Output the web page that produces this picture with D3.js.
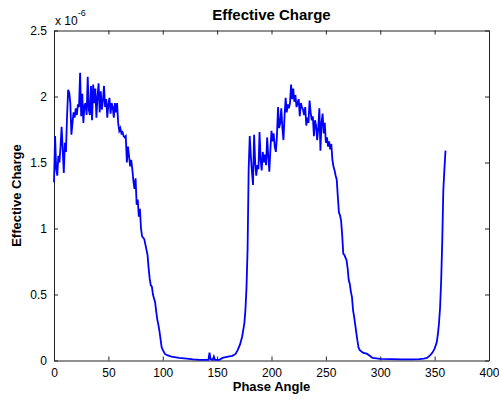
<!DOCTYPE html>
<html>
<head>
<meta charset="utf-8">
<script src="https://cdn.jsdelivr.net/npm/d3@7"></script>
<style>
  body { margin: 0; background: #fff; overflow: hidden; }
  text { font-family: "Liberation Sans", Arial, sans-serif; }
</style>
</head>
<body>
<div class="canvas"></div>
<script>
// phase angle (deg) and effective charge (x 1e-6)
var phase = [
  0,1,2,3,4,5,6,7,8,9,10,11,12,13,14,15,16,17,18,19,
  20,21,22,23,24,25,26,27,28,29,30,31,32,33,34,35,36,37,38,39,
  40,41,42,43,44,45,46,47,48,49,50,51,52,53,54,55,56,57,58,59,
  60,61,62,63,64,65,66,67,68,69,70,71,72,73,74,75,76,77,78,79,
  80,81,82,83,84,85,86,87,88,89,90,91,92,93,94,95,96,97,98,99,100,
  102,104,108,115,122,128,134,141,142,143,144,146,147,148,152,155,160,164,167,169,171,173,175,176,177,
  178,179,180,181,182,183,184,185,186,187,188,189,190,191,192,193,194,195,196,197,
  198,199,200,201,202,203,204,205,206,207,208,209,210,211,212,213,214,215,216,217,
  218,219,220,221,222,223,224,225,226,227,228,229,230,231,232,233,234,235,236,237,
  238,239,240,241,242,243,244,245,246,247,248,249,250,251,252,253,254,255,256,257,
  258,259,260,261,262,263,264,265,266,267,268,269,270,271,272,273,274,275,276,277,
  278,279,280,281,284,288,293,300,310,320,330,336,340,343,346,348,350,352,353,354,
  355,356,357,358,359,360
];
var charge = [
  1.35,1.70,1.45,1.40,1.55,1.50,1.62,1.77,1.60,1.42,1.65,1.58,1.85,2.05,2.03,1.95,1.71,1.80,1.88,1.84,
  1.91,1.86,1.94,1.92,2.18,1.85,2.02,1.80,1.93,1.95,1.86,2.15,1.90,1.86,2.08,1.82,2.09,1.95,2.06,1.84,
  2.00,2.10,1.88,2.04,1.90,1.97,2.08,1.92,1.98,1.84,1.94,1.99,1.87,1.95,1.92,1.84,1.95,1.88,1.95,1.80,
  1.74,1.76,1.72,1.73,1.70,1.69,1.70,1.50,1.62,1.55,1.47,1.52,1.45,1.36,1.30,1.38,1.18,1.22,1.09,1.15,
  1.00,0.94,0.93,0.92,0.88,0.84,0.80,0.70,0.62,0.57,0.56,0.50,0.47,0.44,0.37,0.31,0.27,0.22,0.16,0.10,0.08,
  0.05,0.04,0.03,0.02,0.015,0.008,0.005,0.005,0.005,0.06,0.01,0.005,0.03,0.005,0.005,0.02,0.03,0.035,0.05,0.08,0.12,0.18,0.28,0.38,0.55,
  0.84,1.45,1.70,1.55,1.43,1.33,1.71,1.50,1.40,1.48,1.45,1.73,1.52,1.44,1.58,1.50,1.56,1.48,1.69,1.55,
  1.43,1.60,1.74,1.66,1.72,1.62,1.58,1.70,1.92,1.76,1.80,1.91,1.76,1.67,1.85,1.99,1.88,1.94,1.91,1.95,
  2.09,1.98,2.06,1.96,2.01,1.92,1.95,1.98,1.85,1.95,1.92,1.90,1.86,1.92,1.78,1.84,1.80,1.97,1.88,1.82,
  1.85,1.70,1.82,1.78,1.67,1.76,1.91,1.59,1.80,1.87,1.72,1.80,1.65,1.69,1.62,1.66,1.60,1.64,1.52,1.47,
  1.44,1.40,1.37,1.24,1.12,1.10,1.06,0.95,0.81,0.80,0.78,0.76,0.70,0.61,0.58,0.52,0.48,0.38,0.33,0.27,
  0.21,0.15,0.10,0.08,0.06,0.05,0.02,0.012,0.01,0.008,0.008,0.01,0.015,0.02,0.04,0.06,0.09,0.14,0.20,0.28,
  0.40,0.60,0.90,1.29,1.45,1.59
];
var xTicks = [0, 50, 100, 150, 200, 250, 300, 350, 400];
var yTicks = [0, 0.5, 1, 1.5, 2, 2.5];

var width = 499;
var height = 399;
var plotLeft = 54, plotRight = 489, plotTop = 30.5, plotBottom = 360.5;

var svg = d3.select('.canvas')
  .append('svg')
  .attr('width', width)
  .attr('height', height);

var xscale = d3.scaleLinear().domain([0, 400]).range([plotLeft, plotRight]);
var yscale = d3.scaleLinear().domain([0, 2.5]).range([plotBottom, plotTop]);

// axes, ticks pointing inward (matlab box)
svg.append('g')
  .attr('class', 'axis')
  .attr('transform', 'translate(0,' + plotBottom + ')')
  .call(d3.axisBottom(xscale).tickValues(xTicks).tickSizeInner(-4).tickSizeOuter(0).tickPadding(8));
svg.append('g')
  .attr('class', 'axis')
  .attr('transform', 'translate(0,' + plotTop + ')')
  .call(d3.axisTop(xscale).tickValues(xTicks).tickSizeInner(-4).tickSizeOuter(0).tickFormat(''));
svg.append('g')
  .attr('class', 'axis')
  .attr('transform', 'translate(' + plotLeft + ',0)')
  .call(d3.axisLeft(yscale).tickValues(yTicks).tickSizeInner(-4).tickSizeOuter(0).tickPadding(7)
    .tickFormat(function(d) { return d; }));
svg.append('g')
  .attr('class', 'axis')
  .attr('transform', 'translate(' + plotRight + ',0)')
  .call(d3.axisRight(yscale).tickValues(yTicks).tickSizeInner(-4).tickSizeOuter(0).tickFormat(''));

svg.selectAll('.axis path').attr('stroke', '#222');
svg.selectAll('.axis line').attr('stroke', '#222');
svg.selectAll('.axis text')
  .attr('font-size', 12)
  .attr('fill', '#000')
  .attr('font-family', '"Liberation Sans", Arial, sans-serif');

var pts = phase.map(function(p, i) { return [p, charge[i]]; });
var line = d3.line()
  .x(function(d) { return xscale(d[0]); })
  .y(function(d) { return yscale(d[1]); });

svg.append('path')
  .datum(pts)
  .attr('d', line)
  .attr('fill', 'none')
  .attr('stroke', '#0000ff')
  .attr('stroke-width', 1.8)
  .attr('stroke-linejoin', 'miter');

// labels
svg.append('text')
  .attr('x', (plotLeft + plotRight) / 2).attr('y', 20)
  .attr('text-anchor', 'middle')
  .attr('font-size', 15).attr('font-weight', 'bold')
  .text('Effective Charge');
svg.append('text')
  .attr('x', (plotLeft + plotRight) / 2).attr('y', 391)
  .attr('text-anchor', 'middle')
  .attr('font-size', 13).attr('font-weight', 'bold')
  .text('Phase Angle');
svg.append('text')
  .attr('transform', 'translate(21,' + ((plotTop + plotBottom) / 2) + ') rotate(-90)')
  .attr('text-anchor', 'middle')
  .attr('font-size', 13).attr('font-weight', 'bold')
  .text('Effective Charge');

var exp = svg.append('text').attr('x', 55).attr('y', 25).attr('font-size', 12);
exp.append('tspan').text('x 10');
exp.append('tspan').attr('dy', -9).attr('font-size', 9).text('-6');
</script>
</body>
</html>
